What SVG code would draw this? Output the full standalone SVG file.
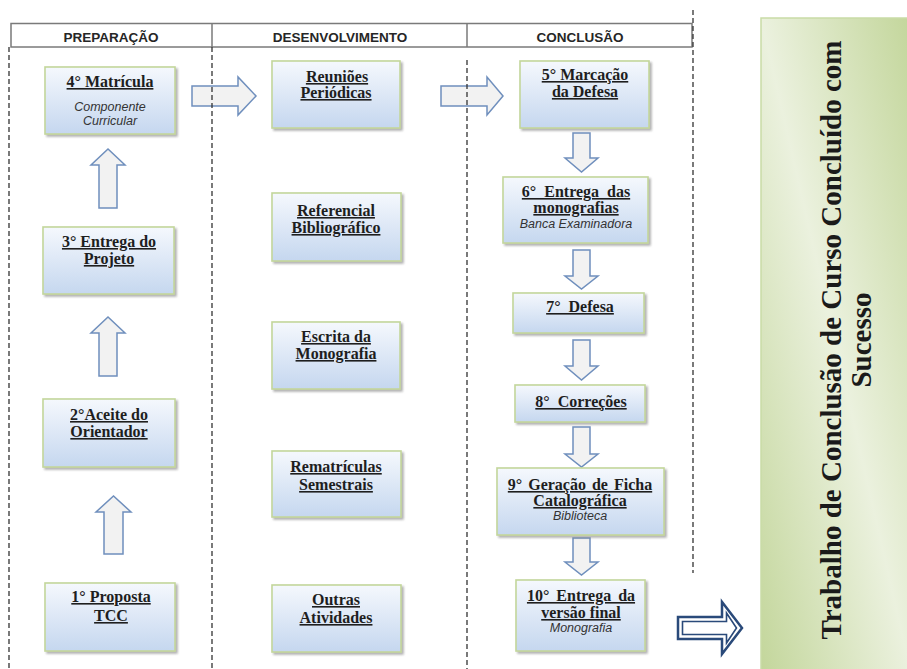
<svg xmlns="http://www.w3.org/2000/svg" width="907" height="669" viewBox="0 0 907 669">
<defs>
<linearGradient id="boxg" x1="0" y1="0" x2="0" y2="1">
<stop offset="0" stop-color="#f5f8fd"/>
<stop offset="1" stop-color="#c5d7ef"/>
</linearGradient>
<linearGradient id="panelg" x1="1" y1="0" x2="0" y2="1">
<stop offset="0" stop-color="#c3d69b"/>
<stop offset="0.5" stop-color="#ebf1de"/>
<stop offset="1" stop-color="#c3d69b"/>
</linearGradient>
<filter id="sh" x="-10%" y="-10%" width="125%" height="130%">
<feDropShadow dx="2" dy="2" stdDeviation="1" flood-color="#7f7f7f" flood-opacity="0.6"/>
</filter>
</defs>
<style>
.box{fill:url(#boxg);stroke:#c3d69b;stroke-width:1.6;filter:url(#sh)}
.t{font-family:"Liberation Serif","Times New Roman",serif;font-weight:bold;font-size:16px;fill:#1e1e1e;text-anchor:middle;text-decoration:underline}
.i{font-family:"Liberation Sans",Arial,sans-serif;font-style:italic;font-size:12.5px;fill:#333;text-anchor:middle}
.h{font-family:"Liberation Sans",Arial,sans-serif;font-weight:bold;font-size:13.5px;fill:#262626;text-anchor:middle}
.ar{fill:#f2f2f2;stroke:#6f8fbd;stroke-width:1.5;stroke-linejoin:miter}
.dash{stroke:#333;stroke-width:1.3;stroke-dasharray:5 3;fill:none}
.hdr{stroke:#7a7a7a;stroke-width:1.5;fill:none}
</style>

<g id="header">
<rect class="hdr" x="11" y="23.5" width="681" height="23.5" fill="#fff"/>
<line class="hdr" x1="212" y1="23.5" x2="212" y2="47"/>
<line class="hdr" x1="467" y1="23.5" x2="467" y2="47"/>
<text class="h" x="111" y="41.5">PREPARAÇÃO</text>
<text class="h" x="340" y="41.5">DESENVOLVIMENTO</text>
<text class="h" x="580" y="41.5">CONCLUSÃO</text>
</g>

<g id="panel">
<rect x="761" y="18" width="150" height="655" fill="url(#panelg)" stroke="#c9dba6" stroke-width="1.5"/>
<text font-family="'Liberation Serif','Times New Roman',serif" font-weight="bold" font-size="29" fill="#1a1a1a" text-anchor="middle" transform="translate(841,340) rotate(-90)">Trabalho de Conclusão de Curso Concluído com</text>
<text font-family="'Liberation Serif','Times New Roman',serif" font-weight="bold" font-size="29" fill="#1a1a1a" text-anchor="middle" transform="translate(871,340) rotate(-90)">Sucesso</text>
</g>

<g id="connectors">
<polygon class="ar" points="99,208 117,208 117,165 125,165 108,149 91,165 99,165"/>
<polygon class="ar" points="99,376 117,376 117,333 125,333 108,317 91,333 99,333"/>
<polygon class="ar" points="104,554 123,554 123,512 131,512 113.5,496 96,512 104,512"/>
<polygon class="ar" points="192,86 238,86 238,77 256,96 238,115 238,106 192,106"/>
<polygon class="ar" points="441,86 487,86 487,77 503,96 487,115 487,106 441,106"/>
<polygon class="ar" points="573,133 590,133 590,158 598,158 581.5,172 565,158 573,158"/>
<polygon class="ar" points="573,250 590,250 590,276 598,276 581.5,289 565,276 573,276"/>
<polygon class="ar" points="573,340 590,340 590,366 598,366 581.5,380 565,366 573,366"/>
<polygon class="ar" points="573,427 590,427 590,454 598,454 581.5,467 565,454 573,454"/>
<polygon class="ar" points="573,538 590,538 590,562 598,562 581.5,575 565,562 573,562"/>
<g id="final-arrow" fill="#fff" stroke="#2a4a7a" stroke-linejoin="miter">
<polygon stroke-width="2.5" points="678,617 722,617 722,602 742,628 722,654 722,639 678,639"/>
<polygon stroke-width="1.6" points="682.5,621.5 726.5,621.5 726.5,613 736.5,628 726.5,643 726.5,634.5 682.5,634.5"/>
</g>
</g>

<g id="dashed-lines">
<line class="dash" x1="9" y1="47" x2="9" y2="669"/>
<line class="dash" x1="212" y1="47" x2="212" y2="669"/>
<line class="dash" x1="467" y1="60" x2="467" y2="669"/>
<line class="dash" x1="693" y1="10" x2="693" y2="573"/>
</g>

<g id="n4">
<rect class="box" x="45" y="67" width="130" height="67"/>
<text class="t" x="110" y="87">4° Matrícula</text>
<text class="i" x="110" y="110.5">Componente</text>
<text class="i" x="110" y="124.5">Curricular</text>
</g>
<g id="n3">
<rect class="box" x="43" y="227" width="131" height="67"/>
<text class="t" x="109" y="247">3° Entrega do</text>
<text class="t" x="109" y="264">Projeto</text>
</g>
<g id="n2">
<rect class="box" x="43" y="399" width="132" height="68"/>
<text class="t" x="109" y="420">2°Aceite do</text>
<text class="t" x="109" y="437">Orientador</text>
</g>
<g id="n1">
<rect class="box" x="45" y="583" width="130" height="68"/>
<text class="t" x="111" y="602">1° Proposta</text>
<text class="t" x="111" y="621">TCC</text>
</g>

<g id="reunioes">
<rect class="box" x="272" y="61" width="128" height="67"/>
<text class="t" x="337" y="82">Reuniões</text>
<text class="t" x="336" y="98">Periódicas</text>
</g>
<g id="referencial">
<rect class="box" x="272" y="193" width="129" height="68"/>
<text class="t" x="336" y="216">Referencial</text>
<text class="t" x="336" y="233">Bibliográfico</text>
</g>
<g id="escrita">
<rect class="box" x="272" y="322" width="128" height="67"/>
<text class="t" x="336" y="342">Escrita da</text>
<text class="t" x="336" y="359">Monografia</text>
</g>
<g id="rematriculas">
<rect class="box" x="272" y="451" width="129" height="66"/>
<text class="t" x="336" y="472">Rematrículas</text>
<text class="t" x="336" y="490">Semestrais</text>
</g>
<g id="outras">
<rect class="box" x="272" y="585" width="129" height="67"/>
<text class="t" x="336" y="605">Outras</text>
<text class="t" x="336" y="623">Atividades</text>
</g>

<g id="n5">
<rect class="box" x="520" y="61" width="129" height="67"/>
<text class="t" x="585" y="80">5° Marcação</text>
<text class="t" x="585" y="97">da Defesa</text>
</g>
<g id="n6">
<rect class="box" x="503" y="177" width="145" height="66"/>
<text class="t" x="576" y="197" word-spacing="4">6° Entrega das</text>
<text class="t" x="576" y="213">monografias</text>
<text class="i" x="576" y="228">Banca Examinadora</text>
</g>
<g id="n7">
<rect class="box" x="513" y="293" width="131" height="40"/>
<text class="t" x="580" y="312" word-spacing="4">7° Defesa</text>
</g>
<g id="n8">
<rect class="box" x="515" y="385" width="130" height="37"/>
<text class="t" x="581" y="407" word-spacing="4">8° Correções</text>
</g>
<g id="n9">
<rect class="box" x="497" y="468" width="167" height="67"/>
<text class="t" x="580" y="490" word-spacing="2">9° Geração de Ficha</text>
<text class="t" x="580" y="506">Catalográfica</text>
<text class="i" x="580" y="520">Biblioteca</text>
</g>
<g id="n10">
<rect class="box" x="516" y="580" width="129" height="71"/>
<text class="t" x="581" y="601" word-spacing="3">10° Entrega da</text>
<text class="t" x="581" y="618">versão final</text>
<text class="i" x="581" y="632">Monografia</text>
</g>
</svg>
